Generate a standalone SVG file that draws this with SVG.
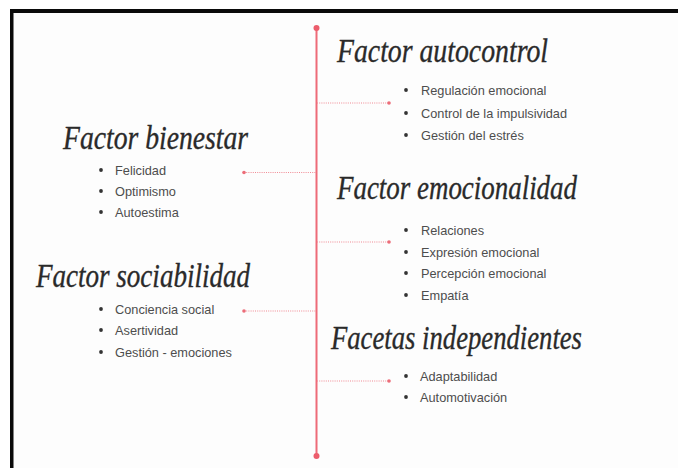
<svg xmlns="http://www.w3.org/2000/svg" width="678" height="468" viewBox="0 0 678 468">
  <style>
    .title { font-family: "Liberation Serif", "DejaVu Serif", serif; font-style: italic; font-size: 33px; fill: #2a2a2a; stroke: #2a2a2a; stroke-width: 0.35; }
    .item { font-family: "Liberation Sans", Arial, sans-serif; font-size: 12.75px; fill: #4d4d4d; }
    .bul { fill: #333333; }
    .spine { stroke: #ee6b78; stroke-width: 2; fill: none; }
    .dot { fill: #ec5d6c; }
    .link { stroke: #f08a94; stroke-width: 1.2; stroke-dasharray: 1 1.2; fill: none; }
    .ldot { fill: #ec6c78; }
  </style>
  <rect x="0" y="0" width="678" height="468" fill="#ffffff"/>
  <rect x="12" y="11" width="666" height="457" fill="#fdfdfd"/>
  <g id="frame">
    <rect x="10" y="9" width="668" height="4" fill="#0a0a0a"/>
    <rect x="10" y="9" width="3.5" height="459" fill="#0a0a0a"/>
  </g>

  <g id="connectors">
    <line class="spine" x1="316.5" y1="28" x2="316.5" y2="456"/>
    <circle class="dot" cx="316.5" cy="28" r="3"/>
    <circle class="dot" cx="316.5" cy="456" r="3"/>
    <line class="link" x1="317" y1="103" x2="389" y2="103"/>
    <circle class="ldot" cx="389" cy="103" r="1.8"/>
    <line class="link" x1="244" y1="172.5" x2="316" y2="172.5"/>
    <circle class="ldot" cx="244" cy="172.5" r="1.8"/>
    <line class="link" x1="244" y1="311" x2="316" y2="311"/>
    <circle class="ldot" cx="244" cy="311" r="1.8"/>
    <line class="link" x1="317" y1="242" x2="389" y2="242"/>
    <circle class="ldot" cx="389" cy="242" r="1.8"/>
    <line class="link" x1="317" y1="381" x2="389" y2="381"/>
    <circle class="ldot" cx="389" cy="381" r="1.8"/>
  </g>

  <g id="autocontrol">
    <text class="title" x="337" y="62" textLength="211" lengthAdjust="spacingAndGlyphs">Factor autocontrol</text>
    <circle class="bul" cx="406" cy="90" r="1.9"/>
    <text class="item" x="421" y="94.5">Regulación emocional</text>
    <circle class="bul" cx="406" cy="113" r="1.9"/>
    <text class="item" x="421" y="117.5">Control de la impulsividad</text>
    <circle class="bul" cx="406" cy="135" r="1.9"/>
    <text class="item" x="421" y="139.5">Gestión del estrés</text>
  </g>

  <g id="bienestar">
    <text class="title" x="63" y="149" textLength="185" lengthAdjust="spacingAndGlyphs">Factor bienestar</text>
    <circle class="bul" cx="101" cy="170" r="1.9"/>
    <text class="item" x="115" y="174.5">Felicidad</text>
    <circle class="bul" cx="101" cy="191" r="1.9"/>
    <text class="item" x="115" y="195.5">Optimismo</text>
    <circle class="bul" cx="101" cy="212" r="1.9"/>
    <text class="item" x="115" y="216.5">Autoestima</text>
  </g>

  <g id="emocionalidad">
    <text class="title" x="337" y="199" textLength="240" lengthAdjust="spacingAndGlyphs">Factor emocionalidad</text>
    <circle class="bul" cx="406" cy="230" r="1.9"/>
    <text class="item" x="421" y="234.5">Relaciones</text>
    <circle class="bul" cx="406" cy="252" r="1.9"/>
    <text class="item" x="421" y="256.5">Expresión emocional</text>
    <circle class="bul" cx="406" cy="273" r="1.9"/>
    <text class="item" x="421" y="277.5">Percepción emocional</text>
    <circle class="bul" cx="406" cy="295" r="1.9"/>
    <text class="item" x="421" y="299.5">Empatía</text>
  </g>

  <g id="sociabilidad">
    <text class="title" x="36" y="287" textLength="214" lengthAdjust="spacingAndGlyphs">Factor sociabilidad</text>
    <circle class="bul" cx="101" cy="309" r="1.9"/>
    <text class="item" x="115" y="313.5">Conciencia social</text>
    <circle class="bul" cx="101" cy="330" r="1.9"/>
    <text class="item" x="115" y="334.5">Asertividad</text>
    <circle class="bul" cx="101" cy="352" r="1.9"/>
    <text class="item" x="115" y="356.5">Gestión - emociones</text>
  </g>

  <g id="facetas">
    <text class="title" x="331" y="349" textLength="251" lengthAdjust="spacingAndGlyphs">Facetas independientes</text>
    <circle class="bul" cx="406" cy="376" r="1.9"/>
    <text class="item" x="420" y="380.5">Adaptabilidad</text>
    <circle class="bul" cx="406" cy="397" r="1.9"/>
    <text class="item" x="420" y="401.5">Automotivación</text>
  </g>
</svg>
